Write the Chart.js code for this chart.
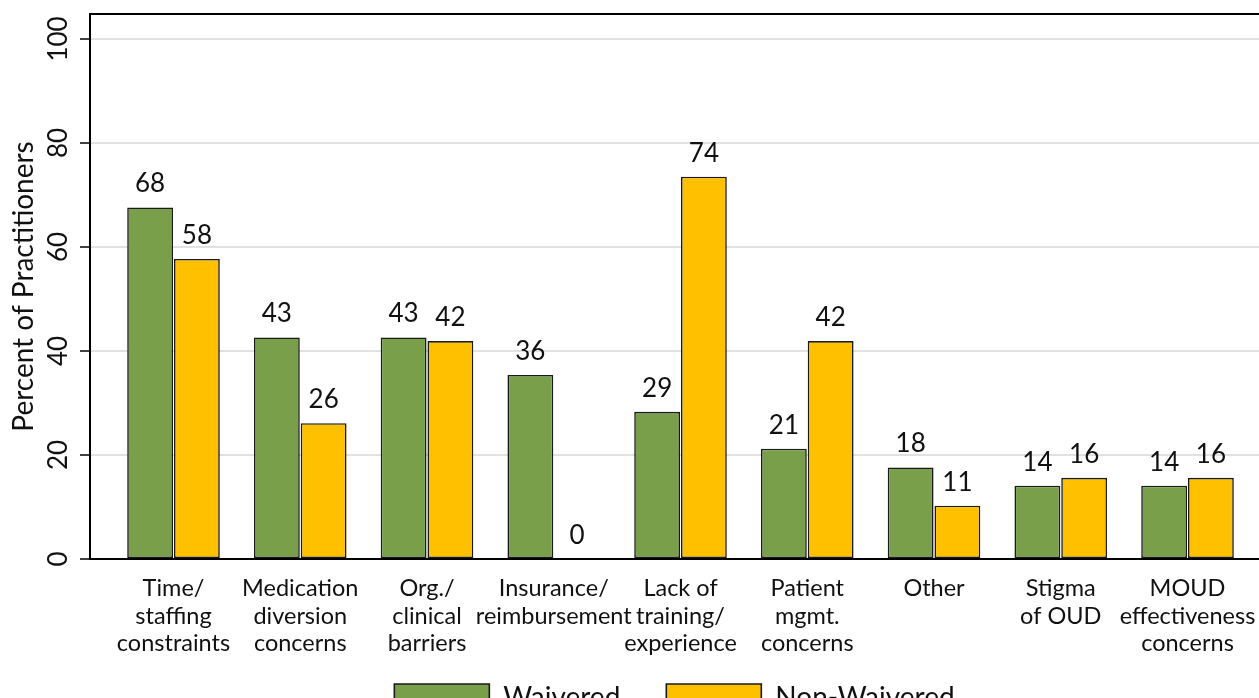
<!DOCTYPE html>
<html>
<head>
<meta charset="utf-8">
<script src="https://cdn.jsdelivr.net/npm/chart.js@4"></script>
<style>
  html, body { margin: 0; padding: 0; overflow: hidden; background: #fff; }
  #wrap { width: 1349px; height: 722px; position: relative; }
</style>
</head>
<body>
<div id="wrap"><canvas id="chart"></canvas></div>
<script>
// categorías (eje x)
const categories = [
  ['Time/', 'staffing', 'constraints'],
  ['Medication', 'diversion', 'concerns'],
  ['Org./', 'clinical', 'barriers'],
  ['Insurance/', 'reimbursement'],
  ['Lack of', 'training/', 'experience'],
  ['Patient', 'mgmt.', 'concerns'],
  ['Other'],
  ['Stigma', 'of OUD'],
  ['MOUD', 'effectiveness', 'concerns']
];

// valores
const waivered = [67.6, 42.6, 42.6, 35.4, 28.3, 21.2, 17.6, 14.1, 14.1];
const nonWaivered = [57.7, 26.1, 41.9, 0, 73.5, 41.9, 10.25, 15.6, 15.6];

// etiquetas de los valores tal como aparecen
const waiveredLabels = ['68', '43', '43', '36', '29', '21', '18', '14', '14'];
const nonWaiveredLabels = ['58', '26', '42', '0', '74', '42', '11', '16', '16'];

const yTicks = [0, 20, 40, 60, 80, 100];

const FONT = 'Lato';

// etiquetas encima de las barras
const valueLabels = {
  id: 'valueLabels',
  afterDatasetsDraw(chart) {
    const ctx = chart.ctx;
    const lists = [waiveredLabels, nonWaiveredLabels];
    ctx.save();
    ctx.font = '26px ' + FONT;
    ctx.fillStyle = '#111';
    ctx.textAlign = 'center';
    ctx.textBaseline = 'alphabetic';
    chart.data.datasets.forEach((ds, d) => {
      const meta = chart.getDatasetMeta(d);
      meta.data.forEach((bar, i) => {
        ctx.fillText(lists[d][i], bar.x, bar.y - 15);
      });
    });
    ctx.restore();
  }
};

// marco superior y etiquetas verticales del eje y
const frame = {
  id: 'frame',
  afterDraw(chart) {
    const ctx = chart.ctx;
    const area = chart.chartArea;
    const y = chart.scales.y;
    ctx.save();
    ctx.strokeStyle = '#000';
    ctx.lineWidth = 2;
    ctx.beginPath();
    ctx.moveTo(area.left - 1, area.top);
    ctx.lineTo(area.right, area.top);
    ctx.stroke();

    ctx.font = '26px ' + FONT;
    ctx.fillStyle = '#111';
    ctx.textAlign = 'center';
    ctx.textBaseline = 'alphabetic';
    y.ticks.forEach(t => {
      const py = y.getPixelForValue(t.value);
      ctx.save();
      ctx.translate(67, py);
      ctx.rotate(-Math.PI / 2);
      ctx.fillText(String(t.value), 0, 0);
      ctx.restore();
    });
    ctx.restore();
  }
};

new Chart(document.getElementById('chart'), {
  type: 'bar',
  data: {
    datasets: [{
      label: 'Waivered',
      data: waivered.map((v, i) => ({ x: i, y: v })),
      backgroundColor: '#799F4B',
      borderColor: '#1a1a1a',
      borderWidth: 1.6,
      borderSkipped: false
    }, {
      label: 'Non-Waivered',
      data: nonWaivered.map((v, i) => ({ x: i, y: v })),
      backgroundColor: '#FFC000',
      borderColor: '#1a1a1a',
      borderWidth: 1.6,
      borderSkipped: false
    }]
  },
  options: {
    responsive: true,
    maintainAspectRatio: false,
    animation: false,
    categoryPercentage: 0.738,
    barPercentage: 0.98,
    layout: { padding: { top: 14, left: 0, right: 0, bottom: 0 } },
    plugins: {
      tooltip: { enabled: false },
      legend: {
        position: 'bottom',
        labels: {
          font: { family: FONT, size: 28 },
          color: '#111',
          boxWidth: 95,
          boxHeight: 28,
          padding: 46
        }
      }
    },
    scales: {
      x: {
        type: 'linear',
        offset: false,
        min: -0.6588,
        max: 9.274,
        grid: { display: false, drawTicks: false, offset: false },
        border: { display: true, color: '#000', width: 2 },
        afterBuildTicks: (scale) => {
          scale.ticks = categories.map((_, i) => ({ value: i }));
        },
        afterFit: (scale) => {
          scale.height = 79;
          // las etiquetas salen del alto del eje; no recortarlas
          scale._computeLabelArea = () => undefined;
        },
        ticks: {
          autoSkip: false,
          maxRotation: 0,
          minRotation: 0,
          padding: 15,
          color: '#111',
          font: { family: FONT, size: 23.5, lineHeight: 1.19 },
          callback: (value) => categories[value]
        }
      },
      y: {
        min: 0,
        max: 104.8,
        afterBuildTicks: (scale) => {
          scale.ticks = yTicks.map(v => ({ value: v }));
        },
        afterFit: (scale) => { scale.width = 90; },
        grid: {
          color: '#e1e1e1',
          lineWidth: 2,
          drawTicks: true,
          tickLength: 10,
          tickColor: '#000',
          tickWidth: 1.5
        },
        border: { display: true, color: '#000', width: 2 },
        ticks: { display: false },
        title: {
          display: true,
          text: 'Percent of Practitioners',
          color: '#111',
          font: { family: FONT, size: 28, lineHeight: 1 },
          padding: { top: 10, bottom: 0 }
        }
      }
    }
  },
  plugins: [valueLabels, frame]
});
</script>
</body>
</html>
